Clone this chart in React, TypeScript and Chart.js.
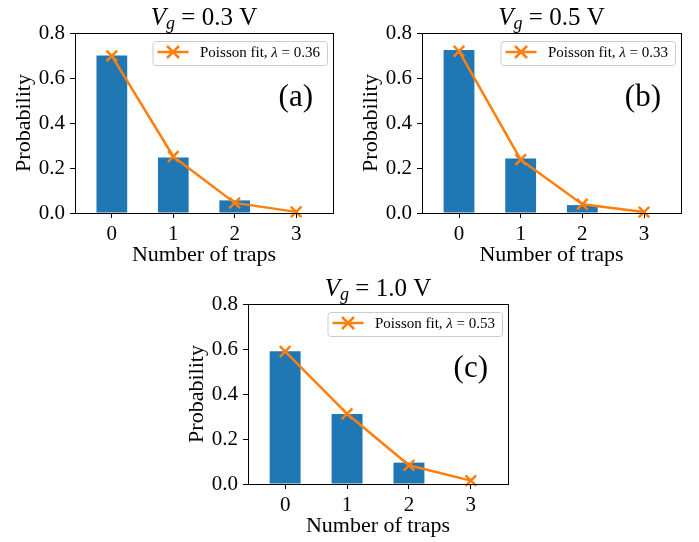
import React, { useEffect, useRef } from "react";
import { Chart, registerables } from "chart.js";

Chart.register(...registerables);

// ---- data ----
const categories = [0, 1, 2, 3];
const yTicks = [0, 0.2, 0.4, 0.6, 0.8];
const probA = [0.7, 0.247, 0.056, 0];
const fitA = [0.698, 0.251, 0.045, 0.005];
const probB = [0.725, 0.242, 0.035, 0];
const fitB = [0.719, 0.237, 0.039, 0.004];
const probC = [0.59, 0.311, 0.095, 0];
const fitC = [0.589, 0.312, 0.083, 0.015];
const voltages = ["0.3", "0.5", "1.0"];
const lambdas = ["0.36", "0.33", "0.53"];
const panelTags = ["(a)", "(b)", "(c)"];
const xLabel = "Number of traps";
const yLabel = "Probability";
const legendLabel = "Poisson fit";

// ---- layout / style ----
const FONT = "'Liberation Serif', 'Times New Roman', 'DejaVu Serif', serif";
const BLUE = "#1f77b4";
const ORANGE = "#ff7f0e";

const layouts = [
  { left: 0, top: 0, w: 350, h: 270, l: 75, t: 33, r: 333, b: 213 },
  { left: 350, top: 0, w: 349, h: 270, l: 72, t: 33, r: 331, b: 213 },
  { left: 170, top: 270, w: 360, h: 272, l: 78, t: 34, r: 338, b: 214 },
];
const seriesProbs = [probA, probB, probC];
const seriesFits = [fitA, fitB, fitC];

function Panel({ idx }: { idx: number }) {
  const ref = useRef<HTMLCanvasElement>(null);
  const box = layouts[idx];
  useEffect(() => {
    const canvas = ref.current!;
    const { w, h, l, t, r, b } = box;
    const probs = seriesProbs[idx];
    const fit = seriesFits[idx];

    const decor = {
      id: "decor" + idx,
      afterDraw(chart: any) {
        const ctx = chart.ctx as CanvasRenderingContext2D;
        const a = chart.chartArea;
        ctx.save();
        // frame
        ctx.strokeStyle = "#000";
        ctx.lineWidth = 1;
        ctx.strokeRect(Math.round(a.left) + 0.5, Math.round(a.top) + 0.5, Math.round(a.right - a.left), Math.round(a.bottom - a.top));

        ctx.fillStyle = "#000";
        ctx.textAlign = "left";
        ctx.textBaseline = "alphabetic";

        // title
        const big = 25;
        const sub = 18;
        const fMain = `${big}px ${FONT}`;
        const fIt = `italic ${big}px ${FONT}`;
        const fSub = `italic ${sub}px ${FONT}`;
        const rest = ` = ${voltages[idx]} V`;
        ctx.font = fIt;
        const wV = ctx.measureText("V").width;
        ctx.font = fSub;
        const wg = ctx.measureText("g").width;
        ctx.font = fMain;
        const wr = ctx.measureText(rest).width;
        let x = (a.left + a.right) / 2 - (wV + wg + wr) / 2;
        const ty = a.top - 8;
        ctx.font = fIt;
        ctx.fillText("V", x, ty);
        x += wV;
        ctx.font = fSub;
        ctx.fillText("g", x, ty + 4);
        x += wg;
        ctx.font = fMain;
        ctx.fillText(rest, x, ty);

        // legend
        const lf = 15;
        const fL = `${lf}px ${FONT}`;
        const fLi = `italic ${lf}px ${FONT}`;
        const s1 = legendLabel + ", ";
        const s2 = "\u03bb";
        const s3 = ` = ${lambdas[idx]}`;
        ctx.font = fL;
        const w1 = ctx.measureText(s1).width;
        const w3 = ctx.measureText(s3).width;
        ctx.font = fLi;
        const w2 = ctx.measureText(s2).width;
        const textW = w1 + w2 + w3;
        const boxH = 24;
        const boxW = 5 + 31 + 11.5 + textW + 7;
        const bx = a.right - 6 - boxW;
        const by = a.top + 8;
        ctx.beginPath();
        (ctx as any).roundRect(bx + 0.5, by + 0.5, boxW, boxH, 3);
        ctx.fillStyle = "rgba(255,255,255,0.8)";
        ctx.fill();
        ctx.strokeStyle = "#cccccc";
        ctx.lineWidth = 1;
        ctx.stroke();
        const ly = by + 11;
        ctx.strokeStyle = ORANGE;
        ctx.lineWidth = 2.5;
        ctx.beginPath();
        ctx.moveTo(bx + 5, ly);
        ctx.lineTo(bx + 36, ly);
        ctx.stroke();
        const cx = bx + 20.5;
        const cr = 6;
        ctx.beginPath();
        ctx.moveTo(cx - cr, ly - cr);
        ctx.lineTo(cx + cr, ly + cr);
        ctx.moveTo(cx - cr, ly + cr);
        ctx.lineTo(cx + cr, ly - cr);
        ctx.stroke();
        ctx.fillStyle = "#000";
        let tx = bx + 47.5;
        const tyL = by + 15.7;
        ctx.font = fL;
        ctx.fillText(s1, tx, tyL);
        tx += w1;
        ctx.font = fLi;
        ctx.fillText(s2, tx, tyL);
        tx += w2;
        ctx.font = fL;
        ctx.fillText(s3, tx, tyL);

        // panel tag
        ctx.font = `31px ${FONT}`;
        ctx.textAlign = "right";
        ctx.fillText(panelTags[idx], a.right - 20, a.top + 73);

        // axis labels
        ctx.font = `22px ${FONT}`;
        ctx.textAlign = "center";
        ctx.fillText(xLabel, (a.left + a.right) / 2, a.bottom + 48);
        ctx.save();
        ctx.translate(a.left - 45, (a.top + a.bottom) / 2);
        ctx.rotate(-Math.PI / 2);
        ctx.fillText(yLabel, 0, 0);
        ctx.restore();

        ctx.restore();
      },
    };

    const chart = new Chart(canvas, {
      type: "bar",
      data: {
        datasets: [
          {
            type: "bar",
            data: categories.map((c, i) => ({ x: c, y: probs[i] })),
            backgroundColor: BLUE,
            borderWidth: 0,
            barPercentage: 0.5,
            categoryPercentage: 1,
            order: 1,
          } as any,
          {
            type: "line",
            label: legendLabel,
            data: categories.map((c, i) => ({ x: c, y: fit[i] })),
            borderColor: ORANGE,
            backgroundColor: ORANGE,
            borderWidth: 2.5,
            pointStyle: "crossRot",
            pointRadius: 7.5,
            pointBorderWidth: 2.5,
            pointBorderColor: ORANGE,
            tension: 0,
            fill: false,
            clip: false,
            order: 0,
          } as any,
        ],
      },
      options: {
        animation: false,
        responsive: false,
        maintainAspectRatio: false,
        devicePixelRatio: 1,
        events: [],
        layout: { padding: { left: 0, top: t, right: w - r, bottom: 0 } },
        plugins: {
          legend: { display: false },
          title: { display: false },
          tooltip: { enabled: false },
        },
        scales: {
          x: {
            type: "linear",
            min: -0.6,
            max: 3.6,
            offset: false,
            afterBuildTicks: (s: any) => {
              s.ticks = categories.map((v) => ({ value: v }));
            },
            afterFit: (s: any) => {
              s.height = h - b;
            },
            grid: {
              display: true,
              drawOnChartArea: false,
              drawTicks: true,
              tickLength: 5,
              tickColor: "#000",
              color: "#000",
              offset: false,
            },
            border: { display: false },
            ticks: {
              font: { family: FONT, size: 21 },
              color: "#000",
              padding: 4,
              maxRotation: 0,
              autoSkip: false,
              callback: (v: any) => String(v),
            },
          },
          y: {
            type: "linear",
            min: 0,
            max: 0.8,
            afterBuildTicks: (s: any) => {
              s.ticks = yTicks.map((v) => ({ value: v }));
            },
            afterFit: (s: any) => {
              s.width = l;
            },
            grid: {
              display: true,
              drawOnChartArea: false,
              drawTicks: true,
              tickLength: 5,
              tickColor: "#000",
              color: "#000",
            },
            border: { display: false },
            ticks: {
              font: { family: FONT, size: 21 },
              color: "#000",
              padding: 5,
              autoSkip: false,
              callback: (v: any) => Number(v).toFixed(1),
            },
          },
        },
      } as any,
      plugins: [decor],
    });
    return () => chart.destroy();
  }, [idx]);

  return (
    <canvas
      ref={ref}
      width={box.w}
      height={box.h}
      style={{ position: "absolute", left: box.left, top: box.top, width: box.w, height: box.h }}
    />
  );
}

export default function App() {
  return (
    <div style={{ position: "absolute", left: 0, top: 0, width: 699, height: 542, background: "#fff" }}>
      {[0, 1, 2].map((i) => (
        <Panel key={i} idx={i} />
      ))}
    </div>
  );
}
